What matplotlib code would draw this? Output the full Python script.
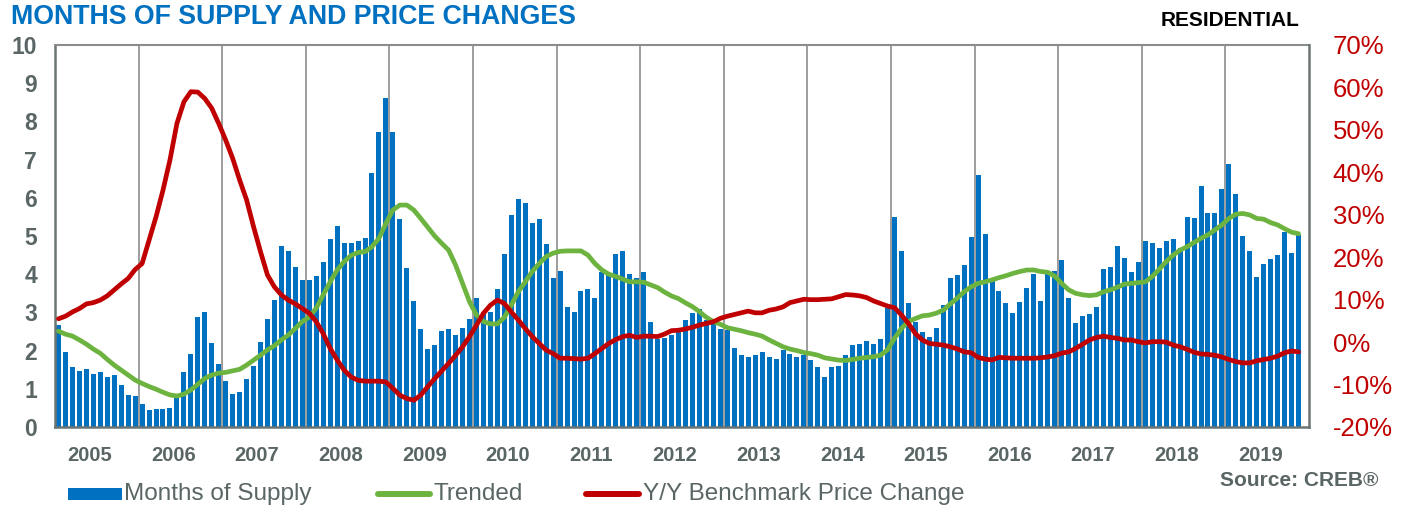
import matplotlib
matplotlib.use('Agg')
import matplotlib.pyplot as plt
import numpy as np
from matplotlib.patches import Rectangle
from matplotlib.lines import Line2D

plt.rcParams['font.family'] = ['Liberation Sans', 'DejaVu Sans']

years = [str(y) for y in range(2005, 2020)]

# Months of supply, monthly bars (Jan 2005 - Nov 2019)
s2005 = [2.67, 1.97, 1.58, 1.47, 1.51, 1.38, 1.44, 1.31, 1.35, 1.09, 0.85, 0.80]
s2006 = [0.59, 0.45, 0.46, 0.46, 0.51, 0.75, 1.44, 1.91, 2.89, 3.00, 2.20, 1.64]
s2007 = [1.20, 0.87, 0.92, 1.26, 1.60, 2.23, 2.82, 3.32, 4.73, 4.62, 4.20, 3.85]
s2008 = [3.84, 3.95, 4.33, 4.91, 5.27, 4.81, 4.81, 4.88, 4.96, 6.64, 7.73, 8.60]
s2009 = [7.73, 5.44, 4.17, 3.31, 2.57, 2.03, 2.15, 2.52, 2.56, 2.41, 2.60, 2.84]
s2010 = [3.39, 3.00, 3.02, 3.61, 4.52, 5.55, 5.96, 5.87, 5.33, 5.45, 4.80, 3.89]
s2011 = [4.08, 3.15, 3.01, 3.56, 3.60, 3.37, 4.07, 3.98, 4.52, 4.62, 4.00, 3.89]
s2012 = [4.07, 2.74, 2.30, 2.32, 2.41, 2.50, 2.80, 2.99, 3.08, 2.80, 2.71, 2.57]
s2013 = [2.54, 2.06, 1.88, 1.82, 1.88, 1.97, 1.84, 1.78, 2.02, 1.91, 1.84, 1.88]
s2014 = [1.75, 1.58, 1.31, 1.56, 1.60, 1.88, 2.14, 2.16, 2.26, 2.18, 2.30, 3.11]
s2015 = [5.49, 4.61, 3.24, 2.75, 2.50, 2.36, 2.58, 3.19, 3.89, 3.97, 4.24, 4.97]
s2016 = [6.60, 5.05, 3.85, 3.56, 3.24, 2.98, 3.28, 3.63, 4.00, 3.31, 4.00, 4.08]
s2017 = [4.38, 3.39, 2.71, 2.91, 2.95, 3.13, 4.14, 4.18, 4.73, 4.43, 4.05, 4.31]
s2018 = [4.86, 4.81, 4.69, 4.86, 4.91, 4.68, 5.49, 5.48, 6.31, 5.59, 5.60, 6.23]
s2019 = [6.88, 6.09, 5.00, 4.62, 3.93, 4.28, 4.41, 4.50, 5.10, 4.56, 5.03]
supply = (s2005 + s2006 + s2007 + s2008 + s2009 + s2010 + s2011 + s2012 + s2013
          + s2014 + s2015 + s2016 + s2017 + s2018 + s2019)

# Trended months of supply (left axis)
trended = [2.51, 2.43, 2.38, 2.28, 2.17, 2.04, 1.93, 1.77, 1.62, 1.49, 1.36, 1.23,
           1.14, 1.06, 0.99, 0.91, 0.84, 0.81, 0.86, 0.97, 1.12, 1.27, 1.36, 1.41,
           1.43, 1.47, 1.51, 1.62, 1.75, 1.88, 2.02, 2.13, 2.28, 2.41, 2.58, 2.76,
           2.88, 3.11, 3.46, 3.80, 4.11, 4.33, 4.49, 4.57, 4.59, 4.72, 4.94, 5.33,
           5.68, 5.81, 5.81, 5.68, 5.46, 5.23, 5.00, 4.81, 4.63, 4.24, 3.76, 3.28,
           2.93, 2.76, 2.70, 2.70, 2.87, 3.19, 3.54, 3.80, 4.07, 4.28, 4.46, 4.55,
           4.60, 4.61, 4.61, 4.61, 4.50, 4.28, 4.11, 4.00, 3.94, 3.87, 3.80, 3.80,
           3.79, 3.72, 3.65, 3.53, 3.43, 3.36, 3.25, 3.15, 3.02, 2.87, 2.76, 2.69,
           2.60, 2.56, 2.52, 2.47, 2.43, 2.38, 2.28, 2.19, 2.10, 2.04, 2.00, 1.95,
           1.92, 1.88, 1.81, 1.78, 1.75, 1.74, 1.77, 1.80, 1.82, 1.84, 1.88, 2.02,
           2.32, 2.58, 2.76, 2.84, 2.91, 2.93, 2.98, 3.06, 3.22, 3.37, 3.54, 3.67,
           3.76, 3.80, 3.85, 3.91, 3.96, 4.02, 4.07, 4.11, 4.11, 4.07, 4.05, 3.95,
           3.76, 3.59, 3.50, 3.46, 3.44, 3.46, 3.54, 3.59, 3.66, 3.74, 3.76, 3.78,
           3.80, 3.94, 4.13, 4.33, 4.50, 4.63, 4.72, 4.83, 4.94, 5.03, 5.16, 5.29,
           5.46, 5.57, 5.59, 5.55, 5.46, 5.44, 5.35, 5.29, 5.19, 5.10, 5.06]

# Y/Y benchmark price change, % (right axis)
yoy = [5.5, 6.1, 7.1, 7.9, 9.0, 9.3, 9.9, 10.9, 12.3, 13.7, 15.0, 17.1,
       18.5, 24.0, 29.5, 35.8, 42.9, 51.5, 56.6, 59.0, 58.9, 57.4, 55.1, 51.5,
       47.6, 43.3, 38.2, 33.5, 27.2, 21.3, 15.8, 13.0, 11.1, 9.9, 9.0, 7.9,
       6.8, 4.8, 2.0, -1.5, -4.2, -6.6, -8.2, -9.0, -9.2, -9.2, -9.2, -9.4,
       -10.9, -12.5, -13.3, -13.7, -12.5, -10.5, -8.6, -6.8, -5.0, -3.1, -1.1, 1.3,
       4.0, 6.8, 8.7, 9.9, 9.1, 7.1, 5.2, 3.2, 1.3, -0.3, -1.9, -2.7,
       -3.8, -3.8, -3.9, -4.0, -3.8, -2.7, -1.5, -0.3, 0.6, 1.3, 1.6, 1.1,
       1.4, 1.4, 1.3, 1.9, 2.7, 2.8, 3.1, 3.5, 4.0, 4.4, 4.8, 5.6,
       6.1, 6.5, 6.9, 7.3, 6.9, 6.9, 7.5, 7.8, 8.3, 9.3, 9.7, 10.1,
       10.0, 10.0, 10.1, 10.2, 10.7, 11.2, 11.1, 10.9, 10.5, 9.7, 9.1, 8.5,
       8.1, 6.4, 4.4, 2.0, 0.5, -0.3, -0.5, -0.7, -1.1, -1.6, -2.3, -2.5,
       -3.6, -4.0, -4.2, -3.6, -3.7, -3.8, -3.8, -3.8, -3.8, -3.7, -3.5, -3.2,
       -2.6, -2.3, -1.5, -0.5, 0.5, 1.1, 1.4, 1.1, 0.9, 0.5, 0.5, 0.1,
       -0.2, 0.1, 0.1, 0.0, -0.7, -1.1, -1.7, -2.4, -2.8, -2.9, -3.1, -3.5,
       -4.1, -4.6, -4.9, -4.9, -4.4, -4.1, -3.8, -3.3, -2.5, -2.1, -2.3]

left_ticks = list(range(0, 11))
right_ticks = list(range(-20, 71, 10))

BLUE = '#0070C0'
GREEN = '#6DB33F'
RED = '#C00000'
GRAY = '#5A6565'
W, H = 1408, 505

fig = plt.figure(figsize=(W / 100, H / 100), dpi=100)
ax = fig.add_axes([55 / W, 1 - 427 / H, (1309 - 55) / W, (427 - 45) / H])

x = np.arange(len(supply))
ax.bar(x, supply, width=0.72, color=BLUE, zorder=2)
ax.plot(np.arange(len(trended)), trended, color=GREEN, lw=3.4, zorder=3,
        solid_joinstyle='round', solid_capstyle='round')

ax2 = ax.twinx()
ax2.plot(np.arange(len(yoy)), yoy, color=RED, lw=3.4, zorder=3,
         solid_joinstyle='round', solid_capstyle='round')

n_slots = 12 * len(years)
ax.set_xlim(-0.5, n_slots - 0.5)
ax.set_ylim(0, 10)
ax2.set_ylim(-20, 70)

ax.set_yticks(left_ticks)
ax.set_yticklabels([str(v) for v in left_ticks], fontweight='bold')
ax2.set_yticks(right_ticks)
ax2.set_yticklabels([f'{v}%' for v in right_ticks])

ax.set_xticks([4.5 + 12 * i for i in range(len(years))])
ax.set_xticklabels(years, fontweight='bold')
ax.set_xticks([11.5 + 12 * i for i in range(len(years) - 1)], minor=True)
ax.grid(which='minor', axis='x', color='#8C8C8C', lw=1.2, zorder=0)
ax.set_axisbelow(True)

ax.tick_params(axis='both', which='both', length=0)
ax.tick_params(axis='y', pad=13, labelsize=16.5, labelcolor=GRAY)
ax.tick_params(axis='x', pad=14, labelsize=14.5, labelcolor=GRAY)
ax2.tick_params(axis='y', length=0, pad=17, labelsize=18.5, labelcolor=RED)

for s in ['left', 'bottom']:
    ax.spines[s].set_color('#6B7575')
    ax.spines[s].set_linewidth(1.8)
ax.spines['top'].set_color('#8C8C8C')
ax.spines['top'].set_linewidth(1.5)
ax.spines['right'].set_visible(False)
for s in ['left', 'bottom', 'top']:
    ax2.spines[s].set_visible(False)
ax2.spines['right'].set_color('#6B7575')
ax2.spines['right'].set_linewidth(1.8)

# Titles / labels
fig.text(11 / W, 1 - 17 / H, 'MONTHS OF SUPPLY AND PRICE CHANGES', fontsize=19.3,
         fontweight='bold', color=BLUE, ha='left', va='center')
fig.text(1300 / W, 1 - 20 / H, 'RESIDENTIAL', fontsize=15, fontweight='bold',
         color='black', ha='right', va='center')
fig.text(1378 / W, 1 - 480 / H, 'Source: CREB®', fontsize=15, fontweight='bold',
         color=GRAY, ha='right', va='center')

# Legend
ly = 494
fig.add_artist(Rectangle((68 / W, 1 - 500 / H), 54 / W, 12 / H, transform=fig.transFigure,
                         facecolor=BLUE, edgecolor='none'))
fig.text(124 / W, 1 - ly / H, 'Months of Supply', fontsize=17.5, color=GRAY,
         ha='left', va='center')
fig.add_artist(Line2D([378 / W, 430 / W], [1 - ly / H, 1 - ly / H], transform=fig.transFigure,
                      color=GREEN, lw=4.3, solid_capstyle='round'))
fig.text(433 / W, 1 - ly / H, 'Trended', fontsize=17.5, color=GRAY, ha='left', va='center')
fig.add_artist(Line2D([586 / W, 639 / W], [1 - ly / H, 1 - ly / H], transform=fig.transFigure,
                      color=RED, lw=4.3, solid_capstyle='round'))
fig.text(643 / W, 1 - ly / H, 'Y/Y Benchmark Price Change', fontsize=17.5, color=GRAY,
         ha='left', va='center')

fig.savefig('out.png', dpi=100)
